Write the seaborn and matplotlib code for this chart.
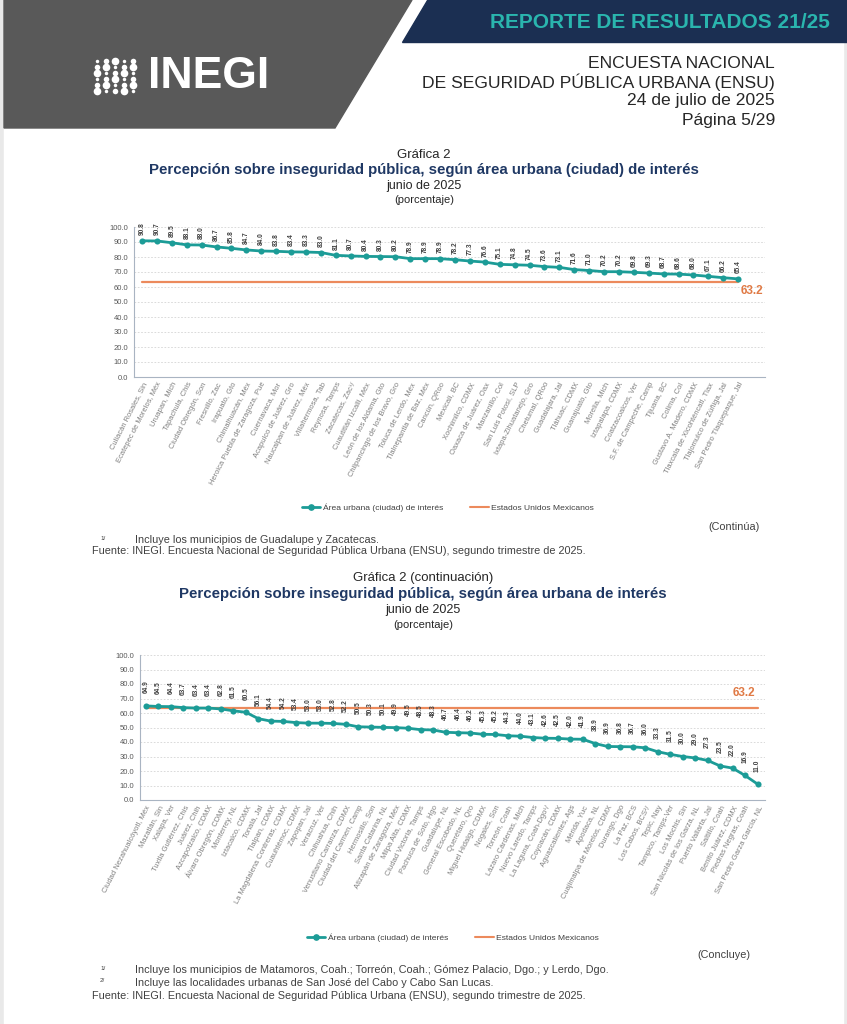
import matplotlib
matplotlib.use("Agg")
from matplotlib import pyplot as plt
from matplotlib.patches import Polygon, Rectangle
from matplotlib.lines import Line2D
import pandas as pd
import seaborn as sns

# Grafica 2 (primera parte)
ciudades_1 = ["Culiacán Rosales, Sin", "Ecatepec de Morelos, Méx", "Uruapan, Mich",
              "Tapachula, Chis", "Ciudad Obregón, Son", "Fresnillo, Zac", "Irapuato, Gto",
              "Chimalhuacán, Méx", "Heroica Puebla de Zaragoza, Pue", "Cuernavaca, Mor",
              "Acapulco de Juárez, Gro", "Naucalpan de Juárez, Méx", "Villahermosa, Tab",
              "Reynosa, Tamps", "Zacatecas, Zac¹/", "Cuautitlán Izcalli, Méx",
              "León de los Aldama, Gto", "Chilpancingo de los Bravo, Gro",
              "Toluca de Lerdo, Méx", "Tlalnepantla de Baz, Méx", "Cancún, QRoo",
              "Mexicali, BC", "Xochimilco, CDMX", "Oaxaca de Juárez, Oax", "Manzanillo, Col",
              "San Luis Potosí, SLP", "Ixtapa-Zihuatanejo, Gro", "Chetumal, QRoo",
              "Guadalajara, Jal", "Tláhuac, CDMX", "Guanajuato, Gto", "Morelia, Mich",
              "Iztapalapa, CDMX", "Coatzacoalcos, Ver", "S.F. de Campeche, Camp",
              "Tijuana, BC", "Colima, Col", "Gustavo A. Madero, CDMX",
              "Tlaxcala de Xicohténcatl, Tlax", "Tlajomulco de Zúñiga, Jal",
              "San Pedro Tlaquepaque, Jal"]
valores_1 = [90.8, 90.7, 89.5, 88.1, 88.0, 86.7, 85.8, 84.7, 84.0, 83.8, 83.4, 83.3,
             83.0, 81.1, 80.7, 80.4, 80.3, 80.2, 78.9, 78.9, 78.9, 78.2, 77.3, 76.6,
             75.1, 74.8, 74.5, 73.6, 73.1, 71.6, 71.0, 70.2, 70.2, 69.8, 69.3, 68.7,
             68.6, 68.0, 67.1, 66.2, 65.4]

# Grafica 2 (continuacion)
ciudades_2 = ["Ciudad Nezahualcóyotl, Méx", "Mazatlán, Sin", "Xalapa, Ver",
              "Tuxtla Gutiérrez, Chis", "Juárez, Chih", "Azcapotzalco, CDMX",
              "Álvaro Obregón, CDMX", "Monterrey, NL", "Iztacalco, CDMX", "Tonalá, Jal",
              "Tlalpan, CDMX", "La Magdalena Contreras, CDMX", "Cuauhtémoc, CDMX",
              "Zapopan, Jal", "Veracruz, Ver", "Chihuahua, Chih",
              "Venustiano Carranza, CDMX", "Ciudad del Carmen, Camp", "Hermosillo, Son",
              "Santa Catarina, NL", "Atizapán de Zaragoza, Méx", "Milpa Alta, CDMX",
              "Ciudad Victoria, Tamps", "Pachuca de Soto, Hgo", "Guadalupe, NL",
              "General Escobedo, NL", "Querétaro, Qro", "Miguel Hidalgo, CDMX",
              "Nogales, Son", "Torreón, Coah", "Lázaro Cárdenas, Mich",
              "Nuevo Laredo, Tamps", "La Laguna, Coah-Dgo¹/", "Coyoacán, CDMX",
              "Aguascalientes, Ags", "Mérida, Yuc", "Apodaca, NL",
              "Cuajimalpa de Morelos, CDMX", "Durango, Dgo", "La Paz, BCS",
              "Los Cabos, BCS²/", "Tepic, Nay", "Tampico, Tamps-Ver", "Los Mochis, Sin",
              "San Nicolás de los Garza, NL", "Puerto Vallarta, Jal", "Saltillo, Coah",
              "Benito Juárez, CDMX", "Piedras Negras, Coah", "San Pedro Garza García, NL"]
valores_2 = [64.9, 64.5, 64.4, 63.7, 63.4, 63.4, 62.8, 61.5, 60.5, 56.1, 54.4, 54.2,
             53.4, 53.0, 53.0, 52.8, 52.2, 50.5, 50.3, 50.1, 49.9, 49.5, 48.5, 48.3,
             46.7, 46.4, 46.2, 45.3, 45.2, 44.3, 44.0, 43.1, 42.6, 42.5, 42.0, 41.9,
             38.9, 36.9, 36.8, 36.7, 36.0, 33.3, 31.5, 30.0, 29.0, 27.3, 23.5, 22.0,
             16.9, 11.0]

nacional = 63.2
y_ticks = [0, 10, 20, 30, 40, 50, 60, 70, 80, 90, 100]
serie_labels = ["Área urbana (ciudad) de interés", "Estados Unidos Mexicanos"]

TEAL = "#1c9c97"
ORANGE = "#ec8a5c"
NAVY = "#1f3864"
TXT = "#404040"
GRIS = "#7f7f7f"
NARROW = ["Liberation Sans Narrow", "Liberation Sans", "DejaVu Sans"]

sns.set_style("white")
plt.rcParams["font.family"] = ["Liberation Sans", "DejaVu Sans"]

W, H = 847, 1024
fig = plt.figure(figsize=(W / 100, H / 100), dpi=100)
fig.patch.set_facecolor("#e9e9e9")

# page layer in pixel coordinates
bg = fig.add_axes([0, 0, 1, 1])
bg.set_xlim(0, W)
bg.set_ylim(H, 0)
bg.axis("off")
bg.add_patch(Rectangle((4, 0), W - 8, H, color="white", zorder=0))
bg.add_patch(Polygon([(4, 0), (412, 0), (335, 128), (4, 128)], color="#595959", zorder=1))
bg.add_patch(Polygon([(427, 0), (W, 0), (W, 42), (402, 42)], color="#1b2f52", zorder=1))

# logo
for c in range(5):
    for r in range(6):
        s = 2.5 + ((c + r) % 3) * 1.5
        bg.plot(97 + c * 9, 61 + r * 6, "o", color="white", ms=s, mew=0, zorder=2)
bg.text(148, 76, "INEGI", color="white", fontsize=32, fontweight="bold",
        family=NARROW, ha="left", va="center", zorder=2)

bg.text(830, 22, "REPORTE DE RESULTADOS 21/25", color="#2ab5ae", fontsize=15,
        fontweight="bold", family=NARROW, ha="right", va="center")
header = ["ENCUESTA NACIONAL", "DE SEGURIDAD PÚBLICA URBANA (ENSU)",
          "24 de julio de 2025", "Página 5/29"]
for k, t in enumerate(header):
    bg.text(775, 63 + k * 19, t, color="#262626", fontsize=12.6, family=NARROW,
            ha="right", va="center")


def box(x0, x1, ytop, ybot):
    return [x0 / W, 1 - ybot / H, (x1 - x0) / W, (ybot - ytop) / H]


def grafica(rect, ciudades, valores, xlim, offset, lbl_pos):
    ax = fig.add_axes(rect)
    df = pd.DataFrame({"pos": range(len(ciudades)), "valor": valores,
                       "nacional": [nacional] * len(ciudades)})
    sns.lineplot(data=df, x="pos", y="nacional", color=ORANGE, lw=1.6, ax=ax, zorder=2)
    sns.lineplot(data=df, x="pos", y="valor", color=TEAL, lw=2.0, marker="o",
                 markersize=4.4, markeredgewidth=0, ax=ax, zorder=3)
    for i, v in enumerate(valores):
        ax.annotate(f"{v:.1f}", (i, v), xytext=(0, offset), textcoords="offset points",
                    rotation=90, ha="center", va="bottom", fontsize=4.7,
                    fontweight="bold", color=TXT)
    ax.text(lbl_pos[0], lbl_pos[1], f"{nacional:.1f}", color="#e07a45", fontsize=8.5,
            fontweight="bold", ha="center", va="center")
    ax.set_xlim(*xlim)
    ax.set_ylim(0, 100)
    ax.set_yticks(y_ticks)
    ax.set_yticklabels([f"{t:.1f}" for t in y_ticks], fontsize=5.5, color="#595959")
    ax.set_xticks(range(len(ciudades)))
    ax.set_xticklabels(ciudades, rotation=63, ha="right", rotation_mode="anchor",
                       fontsize=5.4, color=GRIS)
    ax.tick_params(axis="x", length=0, pad=3)
    ax.tick_params(axis="y", length=2, width=0.6, color="#a9b4c2", pad=2)
    ax.yaxis.grid(True, ls=(0, (2, 2)), color="#d4d4d4", lw=0.6)
    ax.set_axisbelow(True)
    for side in ["top", "right"]:
        ax.spines[side].set_visible(False)
    for side in ["left", "bottom"]:
        ax.spines[side].set_color("#a9b4c2")
        ax.spines[side].set_linewidth(0.8)
    ax.set_xlabel("")
    ax.set_ylabel("")
    return ax


def leyenda(cx, cy):
    handles = [Line2D([], [], color=TEAL, lw=2, marker="o", markersize=3.8),
               Line2D([], [], color=ORANGE, lw=1.5)]
    leg = fig.legend(handles, serie_labels, loc="center", bbox_to_anchor=(cx / W, 1 - cy / H),
                     ncol=2, frameon=False, fontsize=6.1, handlelength=2.2,
                     columnspacing=3.2, handletextpad=0.3)
    for t in leg.get_texts():
        t.set_color(TXT)


# ---- first chart
bg.text(424, 155, "Gráfica 2", ha="center", va="center", fontsize=9.5, color="#262626")
bg.text(424, 170, "Percepción sobre inseguridad pública, según área urbana (ciudad) de interés",
        ha="center", va="center", fontsize=10.8, fontweight="bold", color=NAVY)
bg.text(424, 186, "junio de 2025", ha="center", va="center", fontsize=9, color="#262626")
bg.text(424, 200, "(porcentaje)", ha="center", va="center", fontsize=8, color="#262626")

n1 = len(ciudades_1)
grafica(box(134, 765, 227, 377), ciudades_1, valores_1, (-0.54, 41.8), 4, (n1 - 1 + 0.9, 57))
leyenda(448, 508)

bg.text(760, 527, "(Continúa)", ha="right", va="center", fontsize=7.8, color=TXT)
bg.text(100, 538, "1/", ha="left", va="center", fontsize=4.5, color=TXT)
bg.text(135, 540, "Incluye los municipios de Guadalupe y Zacatecas.", ha="left",
        va="center", fontsize=7.8, color=TXT)
bg.text(92, 551, "Fuente: INEGI. Encuesta Nacional de Seguridad Pública Urbana (ENSU), "
        "segundo trimestre de 2025.", ha="left", va="center", fontsize=7.8, color=TXT)

# ---- second chart
bg.text(423, 578, "Gráfica 2 (continuación)", ha="center", va="center", fontsize=9.5,
        color="#262626")
bg.text(423, 594, "Percepción sobre inseguridad pública, según área urbana de interés",
        ha="center", va="center", fontsize=10.8, fontweight="bold", color=NAVY)
bg.text(423, 610, "junio de 2025", ha="center", va="center", fontsize=9, color="#262626")
bg.text(423, 625, "(porcentaje)", ha="center", va="center", fontsize=8, color="#262626")

n2 = len(ciudades_2)
grafica(box(140, 765, 655, 800), ciudades_2, valores_2, (-0.48, 49.6), 9, (n2 - 1 - 1.1, 73.5))
leyenda(453, 938)

bg.text(750, 955, "(Concluye)", ha="right", va="center", fontsize=7.8, color=TXT)
bg.text(100, 968, "1/", ha="left", va="center", fontsize=4.5, color=TXT)
bg.text(135, 970, "Incluye los municipios de Matamoros, Coah.; Torreón, Coah.; "
        "Gómez Palacio, Dgo.; y Lerdo, Dgo.", ha="left", va="center", fontsize=7.8, color=TXT)
bg.text(100, 981, "2/", ha="left", va="center", fontsize=4.5, color=TXT)
bg.text(135, 983, "Incluye las localidades urbanas de San José del Cabo y Cabo San Lucas.",
        ha="left", va="center", fontsize=7.8, color=TXT)
bg.text(92, 996, "Fuente: INEGI. Encuesta Nacional de Seguridad Pública Urbana (ENSU), "
        "segundo trimestre de 2025.", ha="left", va="center", fontsize=7.8, color=TXT)

plt.savefig("out.png", dpi=100, facecolor=fig.get_facecolor())
